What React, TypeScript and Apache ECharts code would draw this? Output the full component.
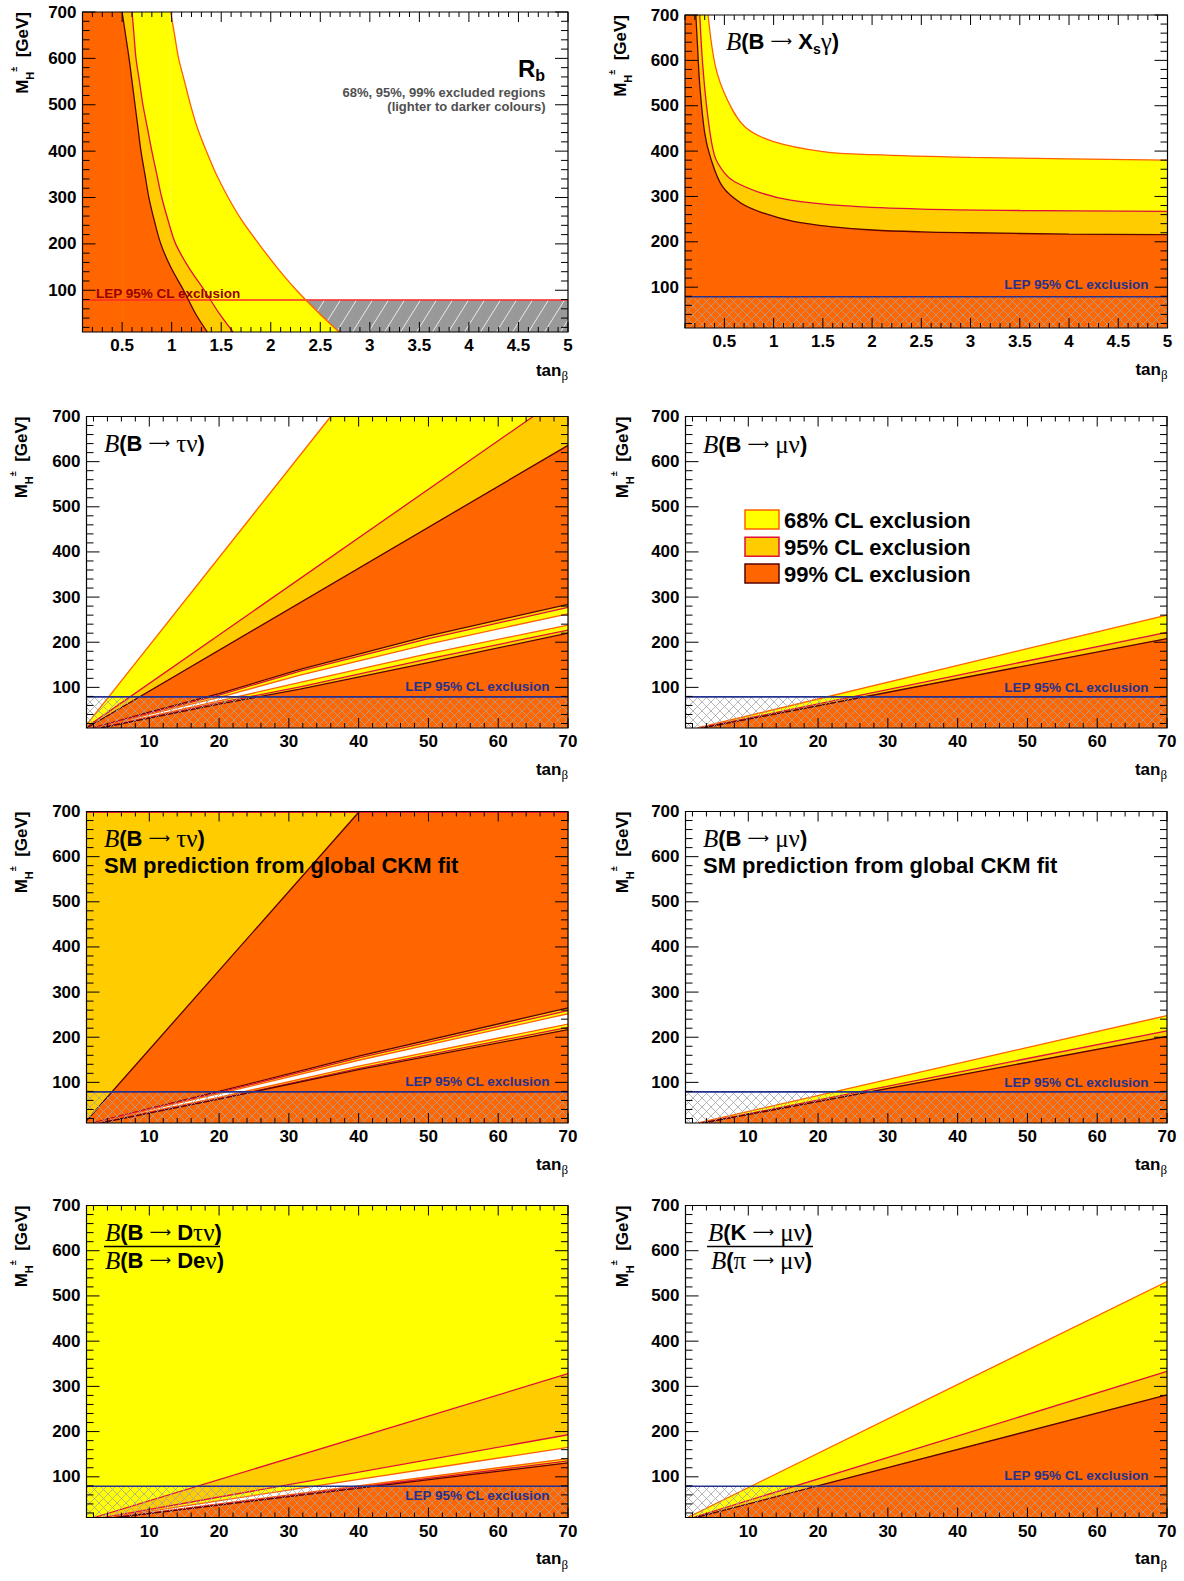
import React, { useEffect, useRef } from "react";
import * as echarts from "echarts";

const SANS = '"Liberation Sans", Arial, Helvetica, sans-serif';
const SERIF = '"Liberation Serif", "DejaVu Serif", "Times New Roman", serif';

// ---------------- axis data ----------------
const Y_MIN = 10;
const Y_MAX = 700;
const LEP_LIMIT = 79;
const yTickValues = [100, 200, 300, 400, 500, 600, 700];
const yTickLabels = ["100", "200", "300", "400", "500", "600", "700"];
const smallTanbTicks = [0.5, 1, 1.5, 2, 2.5, 3, 3.5, 4, 4.5, 5];
const smallTanbLabels = ["0.5", "1", "1.5", "2", "2.5", "3", "3.5", "4", "4.5", "5"];
const largeTanbTicks = [10, 20, 30, 40, 50, 60, 70];
const largeTanbLabels = ["10", "20", "30", "40", "50", "60", "70"];

// ---------------- curves (tanβ, M_H± [GeV]) ----------------
// Rb
const rb99 = [[0.5, 700], [0.535, 650], [0.57, 600], [0.6, 550], [0.63, 500], [0.66, 450], [0.69, 400], [0.73, 350], [0.77, 300], [0.825, 250], [0.89, 200], [0.99, 150], [1.12, 100], [1.24, 50], [1.36, 10]];
const rb95 = [[0.6, 700], [0.62, 650], [0.64, 600], [0.675, 550], [0.71, 500], [0.755, 450], [0.8, 400], [0.85, 350], [0.9, 300], [0.965, 250], [1.04, 200], [1.17, 150], [1.33, 100], [1.48, 50], [1.62, 10]];
const rb68 = [[0.99, 700], [1.03, 650], [1.07, 600], [1.13, 550], [1.19, 500], [1.26, 450], [1.35, 400], [1.45, 350], [1.57, 300], [1.71, 250], [1.88, 200], [2.06, 150], [2.26, 100], [2.49, 50], [2.69, 10]];
// B -> Xs gamma
const bsg99 = [[0.21, 700], [0.23, 620], [0.25, 545], [0.3, 440], [0.36, 385], [0.48, 322], [0.67, 285], [0.9, 263], [1.2, 245], [1.6, 233], [2, 226], [2.5, 222], [3, 220], [4, 217], [5, 216]];
const bsg95 = [[0.25, 700], [0.28, 590], [0.33, 480], [0.4, 390], [0.5, 352], [0.6, 333], [0.87, 308], [1.17, 292], [1.75, 279], [2.5, 272], [3.5, 269], [5, 267]];
const bsg68 = [[0.335, 700], [0.41, 586], [0.53, 513], [0.71, 453], [1.0, 421], [1.5, 399], [2, 392], [3, 386], [4, 383], [5, 380]];
// B -> tau nu
const tau68 = [[1, 17], [36, 700]];
const tau95 = [[1, 12], [65, 700]];
const tau99 = [[1, 10], [70, 636]];
const tauU99 = [[2, 10], [10, 45], [20, 86], [31.6, 140], [50, 214], [70, 284]];
const tauU95 = [[2, 10], [10, 43], [20, 83], [31.6, 136], [50, 208], [70, 277]];
const tauU68 = [[2.5, 10], [10, 40], [20, 78], [31.6, 127], [50, 196], [70, 263]];
const tauL68 = [[2.5, 10], [10, 35], [20, 70], [31.6, 111], [50, 175], [70, 238]];
const tauL95 = [[3, 10], [10, 33], [20, 66], [31.6, 101], [50, 163], [70, 227]];
const tauL99 = [[3, 10], [10, 32], [20, 63], [31.6, 96], [50, 155], [70, 220]];
// B -> mu nu
const mu68 = [[2.7, 10], [70, 260]];
const mu95 = [[3.1, 10], [70, 222]];
const mu99 = [[3.4, 10], [70, 208]];
// B -> tau nu, SM prediction
const smTau99 = [[1, 15], [40.1, 700]];
const smTauTop95 = [[1, 698], [70, 698]];
const smU99 = [[2, 10], [10, 42], [20, 80], [40, 158], [70, 265]];
const smU95 = [[2, 10], [10, 41], [20, 78], [40, 154], [70, 259]];
const smU68 = [[2.5, 10], [10, 39], [20, 75], [40, 149], [70, 252]];
const smL68 = [[2.5, 10], [10, 35], [20, 67], [40, 136], [70, 229]];
const smL95 = [[3, 10], [10, 33], [20, 64], [40, 131], [70, 222]];
const smL99 = [[3, 10], [10, 32], [20, 63], [40, 128], [70, 217]];
// B -> mu nu, SM prediction
const smMu68 = [[2.8, 10], [70, 248]];
const smMu95 = [[3.3, 10], [70, 214]];
const smMu99 = [[3.5, 10], [70, 202]];
// B -> D tau nu / B -> D e nu
const dA95 = [[2.1, 10], [70, 328]];
const dB95 = [[3.6, 10], [70, 193]];
const dC68 = [[4.2, 10], [70, 165]];
const dD68 = [[5, 10], [70, 140]];
const dE95 = [[5.2, 10], [70, 135]];
const dF99 = [[5.3, 10], [70, 131]];
// K -> mu nu / pi -> mu nu
const k68 = [[1.3, 10], [70, 532]];
const k95 = [[2.1, 10], [70, 333]];
const k99 = [[2.5, 10], [70, 281]];

// ---------------- styles ----------------
const COL68 = "#ffff00";
const COL95 = "#ffcc00";
const COL99 = "#ff6600";
const EDGE68 = "#ff6000";
const EDGE95 = "#e0103a";
const EDGE99 = "#5a0000";
const LEP_BLUE = "#24328f";
const SMOOTH = 0.35;

type Pt = number[];

const underRight = (c: Pt[], xmax: number) => {
  const pts: Pt[] = [[c[0][0], Y_MIN], ...c];
  const last = c[c.length - 1];
  if (last[0] < xmax) pts.push([xmax, Y_MAX]);
  pts.push([xmax, Y_MIN]);
  return pts;
};
const band = (u: Pt[], l: Pt[]) => [...u, ...l.slice().reverse()];
const box = (x0: number, x1: number, y0: number, y1: number) => [[x0, y0], [x1, y0], [x1, y1], [x0, y1]];

const fill = (pts: Pt[], color: string) => ({ kind: "fill", pts, color });
const line = (pts: Pt[], color: string, width = 1.3) => ({ kind: "line", pts, color, width });
// smooth area under a curve y(x), plus the strip to its left up to the frame top
const sfill = (c: Pt[], xmin: number, color: string) => [
  fill(box(xmin, c[0][0], Y_MIN, Y_MAX), color),
  { kind: "sfill", pts: c, color },
];
const sline = (c: Pt[], color: string, width = 1.3) => ({ kind: "sline", pts: c, color, width });
const crossHatch = (x0: number, x1: number) => ({ kind: "hatch", x0, x1, y0: Y_MIN, y1: LEP_LIMIT, color: "#a4a4a4", width: 0.8, slope: 1, step: 9, dirs: [1, -1] });
const lepLine = (x0: number, x1: number, color = LEP_BLUE) => line([[x0, LEP_LIMIT], [x1, LEP_LIMIT]], color, 1.6);

const SMALL = { xmin: 0.1, xmax: 5, xTicks: smallTanbTicks, xLabels: smallTanbLabels, xMajorStep: 0.5, xMinorStep: 0.1 };
const LARGE = { xmin: 1, xmax: 70, xTicks: largeTanbTicks, xLabels: largeTanbLabels, xMajorStep: 10, xMinorStep: 2 };

const panels: any[] = [
  {
    ...SMALL, left: 82.5, top: 12, width: 485.5, height: 320,
    layers: [
      fill(box(0.1, 5, Y_MIN, LEP_LIMIT), "#999999"),
      { kind: "hatch", x0: 0.1, x1: 5, y0: Y_MIN, y1: LEP_LIMIT, color: "#ffffff", width: 0.8, slope: 1.6, step: 16, dirs: [1] },
      ...sfill(rb68, 0.1, COL68),
      ...sfill(rb95, 0.1, COL95),
      ...sfill(rb99, 0.1, COL99),
      sline(rb68, EDGE68), sline(rb95, EDGE95), sline(rb99, EDGE99),
      lepLine(0.1, 5, "#ff2a2a"),
    ],
  },
  {
    ...SMALL, left: 685, top: 15, width: 482.5, height: 313,
    layers: [
      ...sfill(bsg68, 0.1, COL68),
      ...sfill(bsg95, 0.1, COL95),
      ...sfill(bsg99, 0.1, COL99),
      sline(bsg68, EDGE68), sline(bsg95, EDGE95), sline(bsg99, EDGE99),
      crossHatch(0.1, 5), lepLine(0.1, 5),
    ],
  },
  {
    ...LARGE, left: 86.5, top: 416.5, width: 481.5, height: 311.5,
    layers: [
      fill(underRight(tau68, 70), COL68),
      fill(underRight(tau95, 70), COL95),
      fill(underRight(tau99, 70), COL99),
      fill(band(tauU99, tauL99), COL95),
      fill(band(tauU95, tauL95), COL68),
      fill(band(tauU68, tauL68), "#ffffff"),
      line(tau68, EDGE68), line(tau95, EDGE95), line(tau99, EDGE99),
      line(tauU99, EDGE99), line(tauU95, EDGE95), line(tauU68, EDGE68),
      line(tauL68, EDGE68), line(tauL95, EDGE95), line(tauL99, EDGE99),
      crossHatch(1, 70), lepLine(1, 70),
    ],
  },
  {
    ...LARGE, left: 685.5, top: 416.5, width: 481.5, height: 311.5,
    layers: [
      fill(underRight(mu68, 70), COL68),
      fill(underRight(mu95, 70), COL95),
      fill(underRight(mu99, 70), COL99),
      line(mu68, EDGE68), line(mu95, EDGE95), line(mu99, EDGE99),
      crossHatch(1, 70), lepLine(1, 70),
    ],
  },
  {
    ...LARGE, left: 86.5, top: 811.5, width: 481.5, height: 311.5,
    layers: [
      fill(box(1, 70, Y_MIN, Y_MAX), COL95),
      fill(underRight(smTau99, 70), COL99),
      fill(band(smU99, smL99), COL95),
      fill(band(smU95, smL95), COL68),
      fill(band(smU68, smL68), "#ffffff"),
      line(smTauTop95, EDGE95), line(smTau99, EDGE99),
      line(smU99, EDGE99), line(smU95, EDGE95), line(smU68, EDGE68),
      line(smL68, EDGE68), line(smL95, EDGE95), line(smL99, EDGE99),
      crossHatch(1, 70), lepLine(1, 70),
    ],
  },
  {
    ...LARGE, left: 685.5, top: 811.5, width: 481.5, height: 311.5,
    layers: [
      fill(underRight(smMu68, 70), COL68),
      fill(underRight(smMu95, 70), COL95),
      fill(underRight(smMu99, 70), COL99),
      line(smMu68, EDGE68), line(smMu95, EDGE95), line(smMu99, EDGE99),
      crossHatch(1, 70), lepLine(1, 70),
    ],
  },
  {
    ...LARGE, left: 86.5, top: 1205.5, width: 481.5, height: 312,
    layers: [
      fill(box(1, 70, Y_MIN, Y_MAX), COL68),
      fill(underRight(dA95, 70), COL95),
      fill(underRight(dB95, 70), COL68),
      fill(underRight(dC68, 70), "#ffffff"),
      fill(underRight(dD68, 70), COL68),
      fill(underRight(dE95, 70), COL95),
      fill(underRight(dF99, 70), COL99),
      line(dA95, EDGE95), line(dB95, EDGE95), line(dC68, EDGE68),
      line(dD68, EDGE68), line(dE95, EDGE95), line(dF99, EDGE99),
      crossHatch(1, 70), lepLine(1, 70),
    ],
  },
  {
    ...LARGE, left: 685.5, top: 1205.5, width: 481.5, height: 312,
    layers: [
      fill(underRight(k68, 70), COL68),
      fill(underRight(k95, 70), COL95),
      fill(underRight(k99, 70), COL99),
      line(k68, EDGE68), line(k95, EDGE95), line(k99, EDGE99),
      crossHatch(1, 70), lepLine(1, 70),
    ],
  },
];

function hatchSegs(left: number, top: number, right: number, bottom: number, a: number, dir: number, step: number) {
  const segs: number[][] = [];
  const cStep = a * step;
  if (dir > 0) {
    const cMin = top + a * left;
    const cMax = bottom + a * right;
    for (let c = Math.floor(cMin / cStep) * cStep; c <= cMax; c += cStep) {
      const lo = Math.max(left, (c - bottom) / a);
      const hi = Math.min(right, (c - top) / a);
      if (hi > lo) segs.push([lo, c - a * lo, hi, c - a * hi]);
    }
  } else {
    const cMin = a * left - bottom;
    const cMax = a * right - top;
    for (let c = Math.floor(cMin / cStep) * cStep; c <= cMax; c += cStep) {
      const lo = Math.max(left, (c + top) / a);
      const hi = Math.min(right, (c + bottom) / a);
      if (hi > lo) segs.push([lo, a * lo - c, hi, a * hi - c]);
    }
  }
  return segs;
}

function renderLayer(L: any, api: any) {
  if (L.kind === "fill") {
    return {
      type: "polygon",
      shape: { points: L.pts.map((p: Pt) => api.coord(p)) },
      style: { fill: L.color, stroke: L.color, lineWidth: 0.4 },
    };
  }
  if (L.kind === "line") {
    return {
      type: "polyline",
      shape: { points: L.pts.map((p: Pt) => api.coord(p)) },
      style: { stroke: L.color, lineWidth: L.width, fill: null },
    };
  }
  const p0 = api.coord([L.x0, L.y0]);
  const p1 = api.coord([L.x1, L.y1]);
  const children: any[] = [];
  L.dirs.forEach((d: number) => {
    hatchSegs(p0[0], p1[1], p1[0], p0[1], L.slope, d, L.step).forEach((s) => {
      children.push({ type: "line", shape: { x1: s[0], y1: s[1], x2: s[2], y2: s[3] }, style: { stroke: L.color, lineWidth: L.width } });
    });
  });
  return { type: "group", children };
}

const TICK_FONT = `bold 17px ${SANS}`;

function renderFrame(P: any, params: any, api: any) {
  const cs = params.coordSys;
  const Lx = cs.x, T = cs.y, R = cs.x + cs.width, B = cs.y + cs.height;
  const ch: any[] = [];
  const seg = (x1: number, y1: number, x2: number, y2: number) => ({
    type: "line", shape: { x1, y1, x2, y2 }, style: { stroke: "#000", lineWidth: 1 },
  });
  const kMin = Math.ceil(P.xmin / P.xMinorStep - 1e-9);
  const kMax = Math.floor(P.xmax / P.xMinorStep + 1e-9);
  for (let k = kMin; k <= kMax; k++) {
    const v = k * P.xMinorStep;
    const r = v / P.xMajorStep;
    const major = Math.abs(r - Math.round(r)) < 1e-6;
    const X = api.coord([v, Y_MIN])[0];
    const len = major ? 10 : 5;
    ch.push(seg(X, B, X, B - len));
    ch.push(seg(X, T, X, T + len));
  }
  P.xTicks.forEach((v: number, i: number) => {
    const X = api.coord([v, Y_MIN])[0];
    ch.push({ type: "text", x: X, y: B + 5, style: { text: P.xLabels[i], font: TICK_FONT, fill: "#000", align: "center", verticalAlign: "top" } });
  });
  for (let v = 20; v <= Y_MAX; v += 20) {
    const Y = api.coord([P.xmin, v])[1];
    const major = v % 100 === 0;
    const len = major ? 13 : 7;
    ch.push(seg(Lx, Y, Lx + len, Y));
    ch.push(seg(R, Y, R - len, Y));
  }
  yTickValues.forEach((v, i) => {
    const Y = api.coord([P.xmin, v])[1];
    ch.push({ type: "text", x: Lx - 6, y: Y, style: { text: yTickLabels[i], font: TICK_FONT, fill: "#000", align: "right", verticalAlign: "middle" } });
  });
  ch.push({ type: "rect", shape: { x: Lx, y: T, width: R - Lx, height: B - T }, style: { fill: "none", stroke: "#000", lineWidth: 1.2 } });
  return { type: "group", children: ch };
}

// ---------------- texts ----------------
const richFormula = {
  cal: { fontFamily: SERIF, fontStyle: "italic", fontSize: 25, fill: "#000", lineHeight: 30, verticalAlign: "middle" },
  b: { fontFamily: SANS, fontWeight: "bold", fontSize: 22, fill: "#000", lineHeight: 30, verticalAlign: "middle" },
  ar: { fontFamily: '"DejaVu Sans", sans-serif', fontSize: 15, fill: "#000", lineHeight: 30, verticalAlign: "middle" },
  g: { fontFamily: SERIF, fontSize: 25, fill: "#000", lineHeight: 30, verticalAlign: "middle" },
  sub: { fontFamily: SANS, fontWeight: "bold", fontSize: 14, fill: "#000", verticalAlign: "bottom", lineHeight: 14 },
};
const ARROW = "⟶";
const formula = (x: number, y: number, text: string) => ({
  type: "text", x, y, silent: true, z: 100,
  style: { text, rich: richFormula, align: "left", verticalAlign: "middle", fill: "#000" },
});
const plain = (x: number, y: number, text: string, font: string, fillCol = "#000", align = "left") => ({
  type: "text", x, y, silent: true, z: 100,
  style: { text, font, fill: fillCol, align, verticalAlign: "middle" },
});

const yTitleRich = {
  m: { fontFamily: SANS, fontWeight: "bold", fontSize: 17, fill: "#000", lineHeight: 26, verticalAlign: "middle" },
  h: { fontFamily: SANS, fontWeight: "bold", fontSize: 11, fill: "#000", verticalAlign: "bottom", lineHeight: 11 },
  pm: { fontFamily: SANS, fontWeight: "bold", fontSize: 9, fill: "#000", verticalAlign: "top", lineHeight: 9 },
};
const xTitleRich = {
  t: { fontFamily: SANS, fontWeight: "bold", fontSize: 17, fill: "#000", lineHeight: 24, verticalAlign: "middle" },
  s: { fontFamily: SERIF, fontSize: 13, fill: "#000", verticalAlign: "bottom", lineHeight: 13 },
};

const yTitleX = [22, 620, 21, 622, 21, 622, 21, 622];
const LEP_FONT = `bold 13.5px ${SANS}`;
const LEP_TEXT = "LEP 95% CL exclusion";

function buildGraphic() {
  const g: any[] = [];
  panels.forEach((p, i) => {
    g.push({
      type: "text", x: yTitleX[i], y: p.top, rotation: Math.PI / 2, silent: true, z: 100,
      style: { text: "{m|M}{h|H}{pm|±}{m|  [GeV]}", rich: yTitleRich, align: "right", verticalAlign: "middle" },
    });
    g.push({
      type: "text", x: p.left + p.width, y: p.top + p.height + (i === 0 ? 38 : 41), silent: true, z: 100,
      style: { text: "{t|tan}{s|β}", rich: xTitleRich, align: "right", verticalAlign: "middle" },
    });
  });
  g.push({
    type: "text", x: 545, y: 68, silent: true, z: 100,
    style: {
      text: "{r|R}{s|b}", align: "right", verticalAlign: "middle",
      rich: {
        r: { fontFamily: SANS, fontWeight: "bold", fontSize: 24, fill: "#000", lineHeight: 30, verticalAlign: "middle" },
        s: { fontFamily: SANS, fontWeight: "bold", fontSize: 16, fill: "#000", verticalAlign: "bottom", lineHeight: 16 },
      },
    },
  });
  g.push(plain(545.5, 92, "68%, 95%, 99% excluded regions", `bold 13px ${SANS}`, "#505050", "right"));
  g.push(plain(545.5, 106, "(lighter to darker colours)", `bold 13px ${SANS}`, "#505050", "right"));
  g.push(plain(96, 293, LEP_TEXT, LEP_FONT, "#990000", "left"));
  g.push(formula(726, 41, `{cal|B}{b|(B }{ar|${ARROW}}{b| X}{sub|s}{g|γ}{b|)}`));
  g.push(plain(1148.5, 284.5, LEP_TEXT, LEP_FONT, LEP_BLUE, "right"));
  g.push(formula(104, 443, `{cal|B}{b|(B }{ar|${ARROW}}{b| }{g|τν}{b|)}`));
  g.push(plain(549.5, 686, LEP_TEXT, LEP_FONT, LEP_BLUE, "right"));
  g.push(formula(703, 444, `{cal|B}{b|(B }{ar|${ARROW}}{b| }{g|μν}{b|)}`));
  g.push(plain(1148.5, 687, LEP_TEXT, LEP_FONT, LEP_BLUE, "right"));
  const legend = [
    { y: 510, fillC: COL68, edge: EDGE68, label: "68% CL exclusion" },
    { y: 537.3, fillC: COL95, edge: EDGE95, label: "95% CL exclusion" },
    { y: 564, fillC: COL99, edge: EDGE99, label: "99% CL exclusion" },
  ];
  legend.forEach((e) => {
    g.push({ type: "rect", silent: true, z: 100, shape: { x: 745, y: e.y, width: 34, height: 19 }, style: { fill: e.fillC, stroke: e.edge, lineWidth: 1.5 } });
    g.push(plain(784, e.y + 10, e.label, `bold 22px ${SANS}`));
  });
  g.push(formula(104, 838, `{cal|B}{b|(B }{ar|${ARROW}}{b| }{g|τν}{b|)}`));
  g.push(plain(104, 865, "SM prediction from global CKM fit", `bold 22px ${SANS}`));
  g.push(plain(549.5, 1081, LEP_TEXT, LEP_FONT, LEP_BLUE, "right"));
  g.push(formula(703, 838, `{cal|B}{b|(B }{ar|${ARROW}}{b| }{g|μν}{b|)}`));
  g.push(plain(703, 865, "SM prediction from global CKM fit", `bold 22px ${SANS}`));
  g.push(plain(1148.5, 1082, LEP_TEXT, LEP_FONT, LEP_BLUE, "right"));
  g.push(formula(105, 1232, `{cal|B}{b|(B }{ar|${ARROW}}{b| D}{g|τν}{b|)}`));
  g.push({ type: "line", silent: true, z: 100, shape: { x1: 104, y1: 1246.5, x2: 220, y2: 1246.5 }, style: { stroke: "#000", lineWidth: 1.5 } });
  g.push(formula(105, 1260, `{cal|B}{b|(B }{ar|${ARROW}}{b| De}{g|ν}{b|)}`));
  g.push(plain(549.5, 1495, LEP_TEXT, LEP_FONT, LEP_BLUE, "right"));
  g.push(formula(708, 1232, `{cal|B}{b|(K }{ar|${ARROW}}{b| }{g|μν}{b|)}`));
  g.push({ type: "line", silent: true, z: 100, shape: { x1: 707, y1: 1246.5, x2: 813, y2: 1246.5 }, style: { stroke: "#000", lineWidth: 1.5 } });
  g.push(formula(711, 1260, `{cal|B}{b|(}{g|π }{ar|${ARROW}}{b| }{g|μν}{b|)}`));
  g.push(plain(1148.5, 1475.5, LEP_TEXT, LEP_FONT, LEP_BLUE, "right"));
  return g;
}

function layerSeries(L: any, p: any, i: number) {
  if (L.kind === "sfill") {
    return {
      type: "line", xAxisIndex: i, yAxisIndex: i, silent: true, z: 2,
      data: L.pts, smooth: SMOOTH, symbol: "none", showSymbol: false,
      lineStyle: { width: 0, opacity: 0 },
      areaStyle: { color: L.color, opacity: 1, origin: "start" },
    };
  }
  if (L.kind === "sline") {
    return {
      type: "line", xAxisIndex: i, yAxisIndex: i, silent: true, z: 2,
      data: L.pts, smooth: SMOOTH, symbol: "none", showSymbol: false,
      lineStyle: { width: L.width, color: L.color },
    };
  }
  return {
    type: "custom", xAxisIndex: i, yAxisIndex: i, clip: true, z: 2, silent: true,
    data: [[p.xmin, Y_MIN]],
    renderItem: (_params: any, api: any) => renderLayer(L, api),
  };
}

function buildOption() {
  const series: any[] = [];
  panels.forEach((p, i) => {
    p.layers.forEach((L: any) => series.push(layerSeries(L, p, i)));
    series.push({
      type: "custom", xAxisIndex: i, yAxisIndex: i, clip: false, z: 5, silent: true,
      data: [[p.xmin, Y_MIN]],
      renderItem: (params: any, api: any) => renderFrame(p, params, api),
    });
  });
  return {
    animation: false,
    backgroundColor: "#ffffff",
    grid: panels.map((p) => ({ left: p.left, top: p.top, width: p.width, height: p.height, containLabel: false })),
    xAxis: panels.map((p, i) => ({ type: "value", gridIndex: i, min: p.xmin, max: p.xmax, show: false, splitLine: { show: false } })),
    yAxis: panels.map((p, i) => ({ type: "value", gridIndex: i, min: Y_MIN, max: Y_MAX, show: false, splitLine: { show: false } })),
    series,
    graphic: buildGraphic(),
  };
}

export default function App() {
  const ref = useRef<HTMLDivElement>(null);
  useEffect(() => {
    if (!ref.current) return;
    const chart = echarts.init(ref.current, undefined, { renderer: "svg" });
    chart.setOption(buildOption() as any);
    return () => chart.dispose();
  }, []);
  return (
    <div
      ref={ref}
      style={{ position: "absolute", left: 0, top: 0, width: 1184, height: 1581, background: "#fff" }}
    />
  );
}
